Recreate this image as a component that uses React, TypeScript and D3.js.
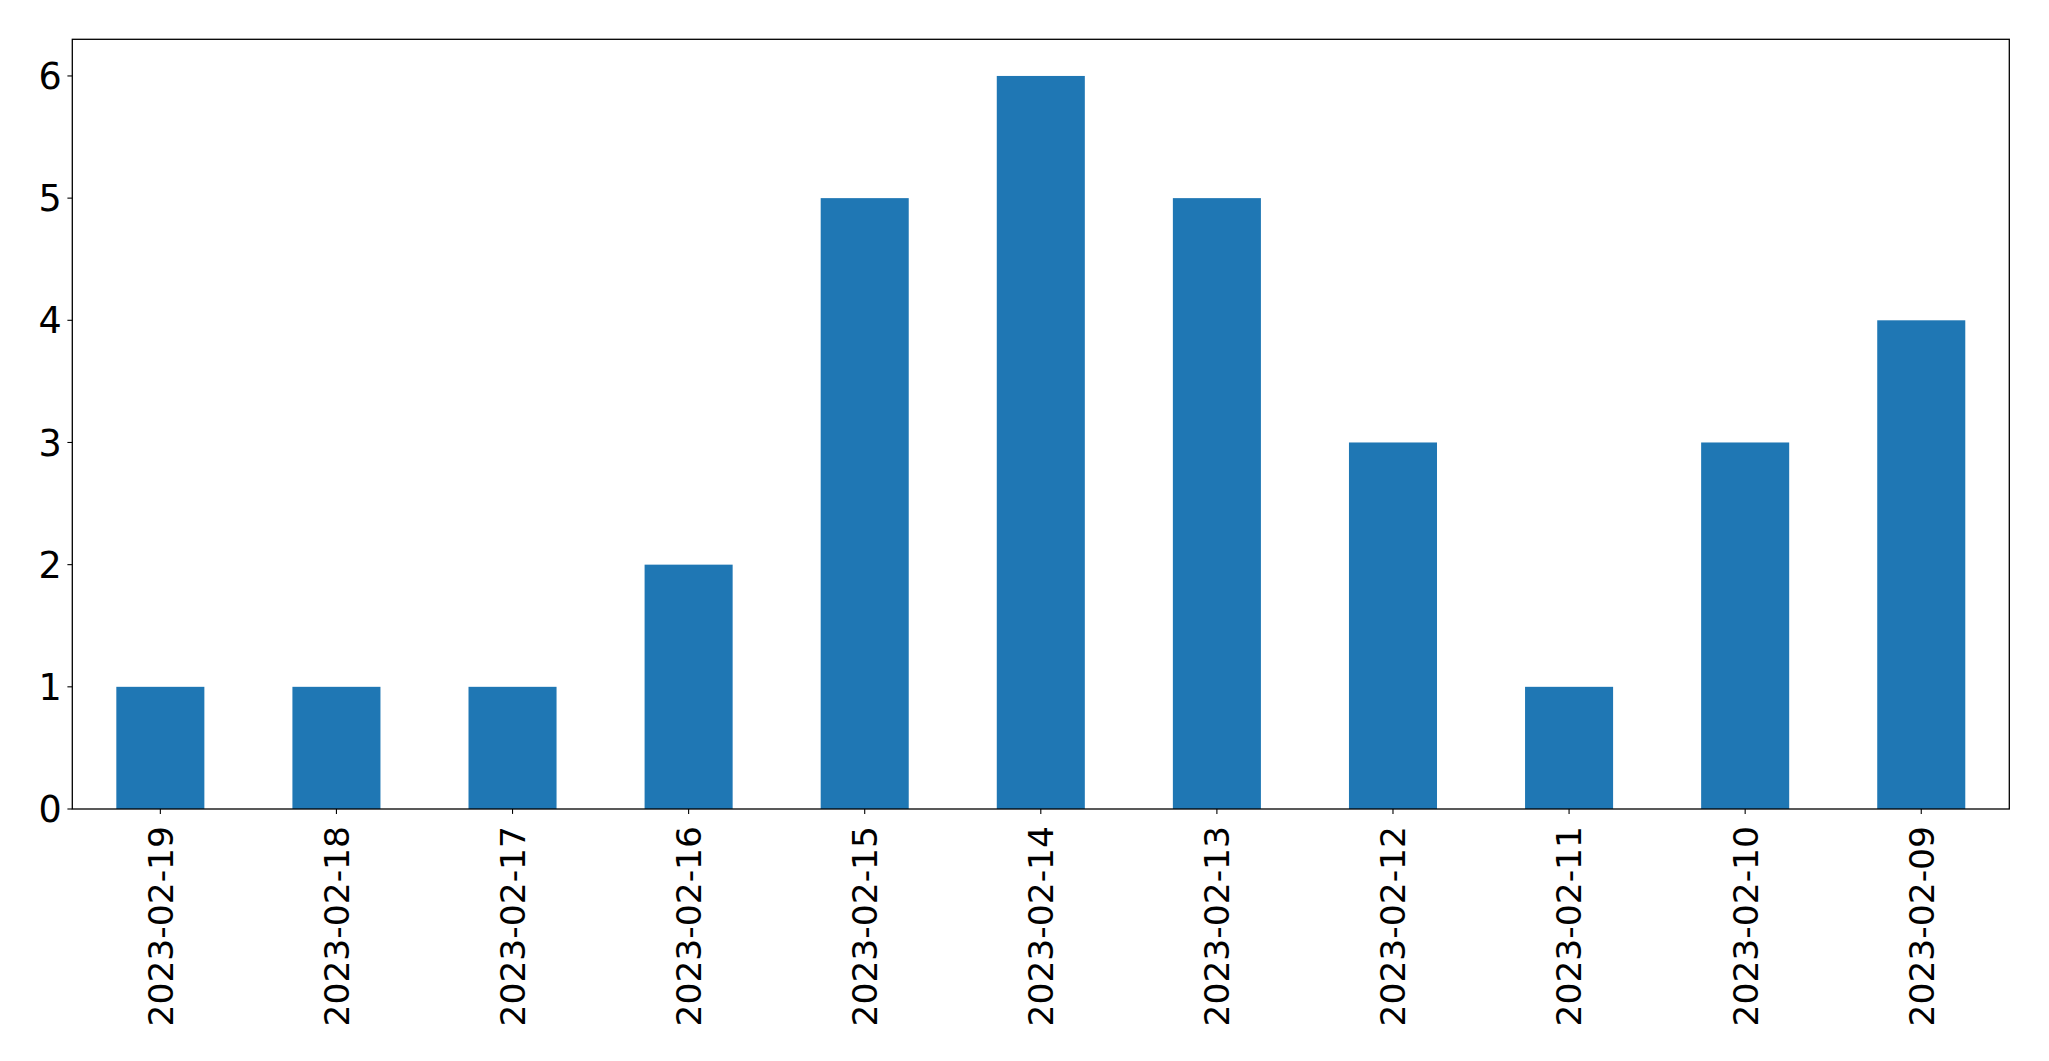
import React from "react";
import * as d3 from "d3";

const categories = ["2023-02-19","2023-02-18","2023-02-17","2023-02-16","2023-02-15","2023-02-14","2023-02-13","2023-02-12","2023-02-11","2023-02-10","2023-02-09"];
const values = [1,1,1,2,5,6,5,3,1,3,4];
const yTicks = [0,1,2,3,4,5,6];

const W = 2049, H = 1061;
const L = 72.3, R = 2009.3, T = 39.3, B = 809;

export default function App() {
  const x = d3.scaleLinear().domain([-0.5, categories.length - 0.5]).range([L, R]);
  const y = d3.scaleLinear().domain([0, 6.3]).range([B, T]);
  const bw = x(0.25) - x(-0.25);
  const font = "'DejaVu Sans', sans-serif";
  return (
    <div style={{ position: "absolute", left: 0, top: 0 }}>
      <svg width={W} height={H} style={{ display: "block", background: "#fff" }}>
        {values.map((v, i) => (
          <rect key={i} x={x(i) - bw / 2} y={y(v)} width={bw} height={y(0) - y(v)} fill="#1f77b4" />
        ))}
        <rect x={L} y={T} width={R - L} height={B - T} fill="none" stroke="#000" strokeWidth={1.3} />
        {yTicks.map((t) => (
          <g key={t}>
            <line x1={L - 4.9} x2={L} y1={y(t)} y2={y(t)} stroke="#000" strokeWidth={1.1} />
            <text x={L - 10.5} y={y(t)} dy="0.36em" textAnchor="end" fontFamily={font} fontSize={36.5} fill="#000">{t}</text>
          </g>
        ))}
        {categories.map((c, i) => (
          <g key={c}>
            <line x1={x(i)} x2={x(i)} y1={B} y2={B + 4.9} stroke="#000" strokeWidth={1.1} />
            <text transform={`translate(${x(i)},${B + 17}) rotate(-90)`} dy="0.36em" textAnchor="end" fontFamily={font} fontSize={34.5} fill="#000">{c}</text>
          </g>
        ))}
      </svg>
    </div>
  );
}
